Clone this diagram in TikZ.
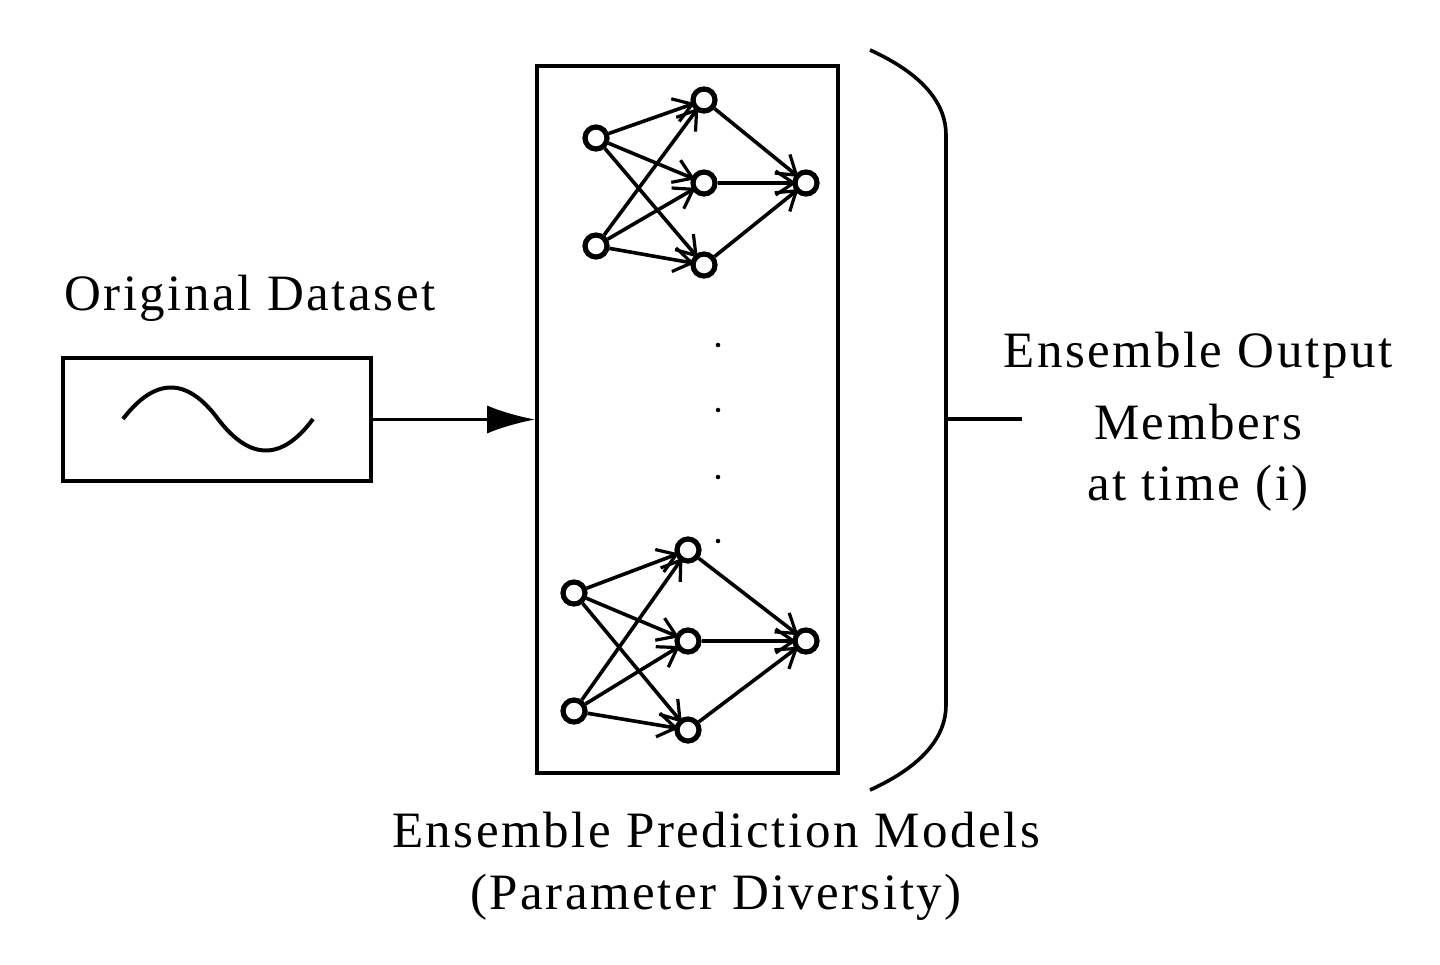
\documentclass[tikz,border=0pt]{standalone}
\usepackage{fontspec}
\setmainfont{Liberation Serif}[LetterSpace=5]
\usetikzlibrary{arrows.meta}
\begin{document}
\begin{tikzpicture}[x=0.5pt,y=-0.5pt,
  nd/.style={circle,draw,line width=2.6pt,minimum size=11pt,inner sep=0pt},
  ed/.style={line width=1.8pt,-{Straight Barb[length=9pt,width=12pt,line width=1.6pt]},shorten >=-2pt},
  lbl/.style={font=\fontsize{25.5}{30}\selectfont,inner sep=0pt},
  dt/.style={circle,fill,inner sep=0.8pt}]
\useasboundingbox (0,0) rectangle (1440,964);
\node[draw,line width=1.8pt,minimum width=154pt,minimum height=61.5pt] (ds) at (217,419.5) {};
\draw[line width=2pt] (123,419) .. controls (155,377) and (187,377) .. (218,419) .. controls (250,461) and (282,461) .. (313,419);
\node[lbl] (t1) at (250,298) {Original Dataset};
\node[draw,line width=1.8pt,minimum width=150.5pt,minimum height=353.5pt] (box) at (687.5,419.5) {};
\draw[line width=1.6pt,-{Latex[length=24pt,width=14pt]}] (ds.east) -- (box.west);
\foreach \n/\x/\y in {a1/596/138,a2/596/246,h1/704/100,h2/704/183,h3/704/265,o/806/183,
  b1/574/593,b2/574/711,k1/688/550,k2/688/641,k3/688/730,p/806/641}
  \node[nd] (\n) at (\x,\y) {};
\foreach \i in {a1,a2} \foreach \h in {h1,h2,h3} \draw[ed] (\i) -- (\h);
\foreach \h in {h1,h2,h3} \draw[ed] (\h) -- (o);
\foreach \i in {b1,b2} \foreach \h in {k1,k2,k3} \draw[ed] (\i) -- (\h);
\foreach \h in {k1,k2,k3} \draw[ed] (\h) -- (p);
\foreach \y [count=\c] in {345,410,477,541} \node[dt] (d\c) at (718,\y) {};
\coordinate (br1) at (870,50); \coordinate (br2) at (870,790);
\coordinate (bm) at (946,419); \coordinate (be) at (1022,419);
\draw[line width=1.8pt] (br1) .. controls (925,75) and (946,105) .. (946,135) -- (946,705) .. controls (946,735) and (925,765) .. (br2);
\draw[line width=1.8pt] (bm) -- (be);
\node[lbl] (e1) at (1198,355) {Ensemble Output};
\node[lbl] (e2) at (1198,422) {Members};
\node[lbl] (e3) at (1198,488) {at time (i)};
\node[lbl] (m1) at (716,830) {Ensemble Prediction Models};
\node[lbl] (m2) at (716,897) {(Parameter Diversity)};
\end{tikzpicture}
\end{document}
